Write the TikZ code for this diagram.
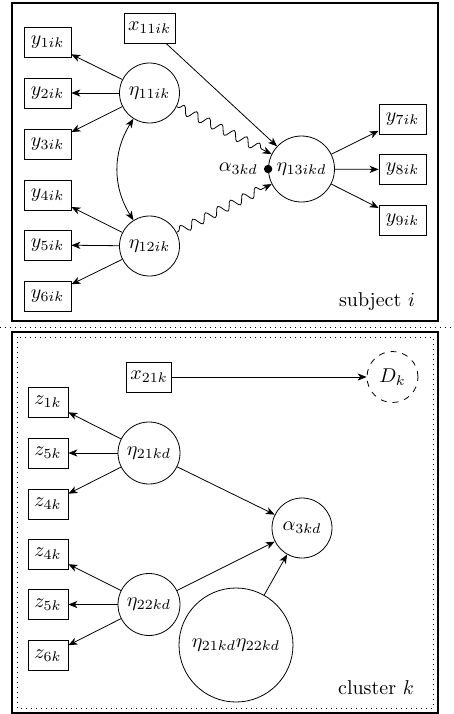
\documentclass[tikz,border=0pt]{standalone}
\usetikzlibrary{arrows.meta,decorations.pathmorphing}
\begin{document}
\begin{tikzpicture}[x=0.5pt,y=-0.5pt,
  >={Stealth[length=4.5pt,width=3.6pt,inset=1.3pt]},
  obs/.style={draw,rectangle,minimum height=15pt,inner sep=2pt},
  yobs/.style={obs,minimum width=23.5pt},
  zobs/.style={obs,minimum width=20pt},
  lat/.style={draw,circle,inner sep=1pt,minimum size=30pt},
  arr/.style={->},
  wavy/.style={->,decorate,decoration={snake,amplitude=2.2pt,segment length=7pt,post length=3pt,pre length=1pt}},
  frame/.style={draw,line width=0.65pt},
  dotline/.style={dotted,line width=0.5pt}]
\useasboundingbox (0,0) rectangle (454,714);
% frames
\draw[frame] (12,3) rectangle (438,321);
\draw[dotline] (0,327) -- (454,327);
\draw[frame] (12,332) rectangle (438,713);
\draw[dotline] (17,337) rectangle (433,708);
% top part
\node[obs] (x11) at (149.5,28) {$x_{11ik}$};
\node[yobs] (y1) at (47.5,42.5) {$y_{1ik}$};
\node[yobs] (y2) at (47.5,93) {$y_{2ik}$};
\node[yobs] (y3) at (47.5,144) {$y_{3ik}$};
\node[yobs] (y4) at (47.5,195) {$y_{4ik}$};
\node[yobs] (y5) at (47.5,245) {$y_{5ik}$};
\node[yobs] (y6) at (47.5,296) {$y_{6ik}$};
\node[lat] (e11) at (149.5,93) {$\eta_{11ik}$};
\node[lat] (e12) at (149.5,246) {$\eta_{12ik}$};
\node[lat,minimum size=33pt] (e13) at (301.5,169) {$\eta_{13ikd}$};
\node[yobs] (y7) at (402.5,119) {$y_{7ik}$};
\node[yobs] (y8) at (402.5,169.5) {$y_{8ik}$};
\node[yobs] (y9) at (402.5,220) {$y_{9ik}$};
\fill (e13.west) circle (2.1pt);
\node[left=3.5pt,inner sep=1.5pt] (a3top) at (e13.west) {$\alpha_{3kd}$};
\node (subj) at (377,302) {subject $i$};
\foreach \t in {y1,y2,y3} \draw[arr] (e11) -- (\t);
\foreach \t in {y4,y5,y6} \draw[arr] (e12) -- (\t);
\foreach \t in {y7,y8,y9} \draw[arr] (e13) -- (\t);
\draw[<->] (e11) to[bend right=32] (e12);
\draw[wavy] (e11) -- (e13);
\draw[wavy] (e12) -- (e13);
\draw[arr] (x11) -- (e13);
% bottom part
\node[obs] (x21) at (149,377) {$x_{21k}$};
\node[draw,dashed,circle,minimum size=25.5pt,inner sep=1pt] (D) at (392.5,377) {$D_k$};
\node[zobs] (z1) at (48,402) {$z_{1k}$};
\node[zobs] (z5a) at (48,453) {$z_{5k}$};
\node[zobs] (z4a) at (48,504) {$z_{4k}$};
\node[zobs] (z4b) at (48,554) {$z_{4k}$};
\node[zobs] (z5b) at (48,604.5) {$z_{5k}$};
\node[zobs] (z6) at (48,655.5) {$z_{6k}$};
\node[lat,minimum size=31pt] (e21) at (149,453) {$\eta_{21kd}$};
\node[lat,minimum size=31pt] (e22) at (149,604.5) {$\eta_{22kd}$};
\node[lat] (a3) at (302,528) {$\alpha_{3kd}$};
\node[lat,minimum size=57pt] (big) at (236,645) {$\eta_{21kd}\eta_{22kd}$};
\node (clus) at (376,688) {cluster $k$};
\draw[arr] (x21) -- (D);
\foreach \t in {z1,z5a,z4a} \draw[arr] (e21) -- (\t);
\foreach \t in {z4b,z5b,z6} \draw[arr] (e22) -- (\t);
\draw[arr] (e21) -- (a3);
\draw[arr] (e22) -- (a3);
\draw[arr] (big) -- (a3);
\end{tikzpicture}
\end{document}
